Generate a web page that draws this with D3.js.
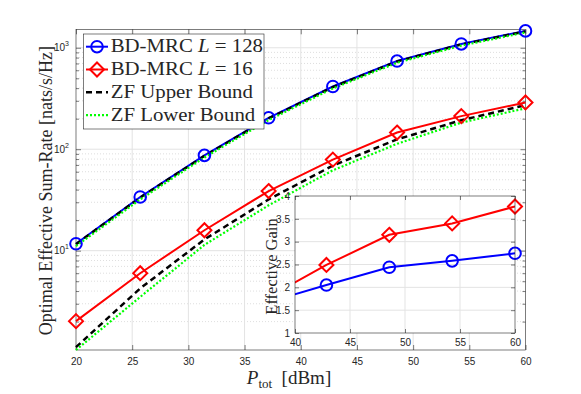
<!DOCTYPE html>
<html>
<head>
<meta charset="utf-8">
<script src="https://cdn.jsdelivr.net/npm/d3@7"></script>
<style>
body{margin:0;background:#fff;}
text{fill:#262626;}
.serif{font-family:"Liberation Serif","DejaVu Serif",serif;}
.sans{font-family:"Liberation Sans","DejaVu Sans",sans-serif;}
</style>
</head>
<body>
<div class="graph"></div>
<script>
// data
var power = [20, 25.714, 31.429, 37.143, 42.857, 48.571, 54.286, 60];
var mrc128 = [11.7, 33.8, 87, 204, 415, 740, 1090, 1465];
var mrc16 = [2.02, 6.0, 15.9, 38.7, 79, 146, 212, 289];
var zfUpper128 = [11.6, 33.4, 86, 201, 410, 732, 1078, 1450];
var zfLower128 = [11.1, 32.0, 83, 194, 397, 712, 1050, 1415];
var zfUpper16 = [1.12, 4.25, 12.9, 32, 69, 125, 193, 272];
var zfLower16 = [1.05, 3.5, 11.4, 28, 62, 113, 183, 253];

var gainPower = [37.143, 42.857, 48.571, 54.286, 60];
var gain16 = [1.73, 2.49, 3.15, 3.40, 3.77];
var gain128 = [1.65, 2.05, 2.44, 2.58, 2.745];

var xTicks = [20, 25, 30, 35, 40, 45, 50, 55, 60];
var yTicks = [10, 100, 1000];
var gainXTicks = [40, 45, 50, 55, 60];
var gainYTicks = [1, 1.5, 2, 2.5, 3, 3.5, 4];
var legendLabels = ["BD-MRC L = 128", "BD-MRC L = 16", "ZF Upper Bound", "ZF Lower Bound"];

const width = 581;
const height = 394;
var main = {left: 76, right: 525.5, top: 29.3, bottom: 350};
var inset = {left: 295, right: 515, top: 196, bottom: 333};

var axisColor = "#262626";
var gridColor = "#e3e3e3";

var blue = "#0000ff", red = "#ff0000", green = "#00ff00";

var svg = d3.select(".graph")
    .append("svg")
    .attr("width", width)
    .attr("height", height)
    .style("display", "block");

var diamond = function(s){
    return "M0," + (-s) + "L" + s + ",0L0," + s + "L" + (-s) + ",0Z";
};

// ===========================================
// main axes
// ===========================================
var scaleX = d3.scaleLinear()
    .domain([20, 60])
    .range([main.left, main.right]);

var scaleY = d3.scaleLog()
    .domain([1.05, 1520])
    .range([main.bottom, main.top]);

var minorY = [];
[1, 10, 100, 1000].forEach(function(d){
    for (var k = 2; k <= 9; k++) {
        var v = d * k;
        if (v > 1.05 && v < 1520) minorY.push(v);
    }
});

// grid
var grid = svg.append("g");
grid.selectAll(".minor")
    .data(minorY)
    .enter()
    .append("line")
    .attr("x1", main.left).attr("x2", main.right)
    .attr("y1", d => scaleY(d)).attr("y2", d => scaleY(d))
    .attr("stroke", "#d6d6d6")
    .attr("stroke-width", 0.8)
    .attr("stroke-dasharray", "1,2");
grid.selectAll(".majorY")
    .data(yTicks)
    .enter()
    .append("line")
    .attr("x1", main.left).attr("x2", main.right)
    .attr("y1", d => scaleY(d)).attr("y2", d => scaleY(d))
    .attr("stroke", gridColor);
grid.selectAll(".majorX")
    .data(xTicks.slice(1, -1))
    .enter()
    .append("line")
    .attr("x1", d => scaleX(d)).attr("x2", d => scaleX(d))
    .attr("y1", main.top).attr("y2", main.bottom)
    .attr("stroke", gridColor);

// axes
var styleAxis = function(g){
    g.select(".domain").remove();
    g.attr("font-family", null).attr("font-size", null);
    g.selectAll(".tick line").attr("stroke", axisColor).attr("stroke-width", 0.6);
    g.selectAll("text").attr("class", "sans").style("font-size", "10px").attr("fill", axisColor);
};

svg.append("g")
    .attr("transform", "translate(0," + main.bottom + ")")
    .call(d3.axisBottom(scaleX).tickValues(xTicks).tickSize(-5).tickPadding(8).tickFormat(d3.format("d")))
    .call(styleAxis);
svg.append("g")
    .attr("transform", "translate(0," + main.top + ")")
    .call(d3.axisTop(scaleX).tickValues(xTicks).tickSize(-5).tickFormat(""))
    .call(styleAxis);

var yAxisL = svg.append("g")
    .attr("transform", "translate(" + main.left + ",0)")
    .call(d3.axisLeft(scaleY).tickValues(yTicks).tickSize(-5).tickPadding(7).tickFormat(""))
    .call(styleAxis);
yAxisL.selectAll(".tick text")
    .each(function(d){
        var t = d3.select(this);
        t.append("tspan").text("10");
        t.append("tspan").attr("dy", -5).style("font-size", "7px").text(Math.round(Math.log10(d)));
    });
svg.append("g")
    .attr("transform", "translate(" + main.left + ",0)")
    .call(d3.axisLeft(scaleY).tickValues(minorY).tickSize(-3).tickFormat(""))
    .call(styleAxis);
svg.append("g")
    .attr("transform", "translate(" + main.right + ",0)")
    .call(d3.axisRight(scaleY).tickValues(yTicks).tickSize(-5).tickFormat(""))
    .call(styleAxis);
svg.append("g")
    .attr("transform", "translate(" + main.right + ",0)")
    .call(d3.axisRight(scaleY).tickValues(minorY).tickSize(-3).tickFormat(""))
    .call(styleAxis);

svg.append("rect")
    .attr("x", main.left).attr("y", main.top)
    .attr("width", main.right - main.left).attr("height", main.bottom - main.top)
    .attr("fill", "none").attr("stroke", axisColor).attr("stroke-width", 0.6);

// curves
var line = d3.line()
    .x((d, i) => scaleX(power[i]))
    .y(d => scaleY(d));

var curves = [
    {data: mrc128, color: blue, width: 2, dash: null},
    {data: mrc16, color: red, width: 2, dash: null},
    {data: zfUpper128, color: "#000", width: 2.5, dash: "6,4"},
    {data: zfUpper16, color: "#000", width: 2.5, dash: "6,4"},
    {data: zfLower128, color: green, width: 2.2, dash: "2,2"},
    {data: zfLower16, color: green, width: 2.2, dash: "2,2"}
];
curves.forEach(function(c){
    svg.append("path")
        .datum(c.data)
        .attr("d", line)
        .attr("fill", "none")
        .attr("stroke", c.color)
        .attr("stroke-width", c.width)
        .attr("stroke-dasharray", c.dash);
});

svg.selectAll(".m128")
    .data(mrc128)
    .enter()
    .append("circle")
    .attr("cx", (d, i) => scaleX(power[i]))
    .attr("cy", d => scaleY(d))
    .attr("r", 5.8)
    .attr("fill", "none")
    .attr("stroke", blue)
    .attr("stroke-width", 2);
svg.selectAll(".m16")
    .data(mrc16)
    .enter()
    .append("path")
    .attr("d", diamond(7))
    .attr("transform", (d, i) => "translate(" + scaleX(power[i]) + "," + scaleY(d) + ")")
    .attr("fill", "none")
    .attr("stroke", red)
    .attr("stroke-width", 2);

// axis labels
svg.append("text")
    .attr("class", "serif")
    .attr("transform", "translate(52," + ((main.top + main.bottom) / 2 + 1) + ") rotate(-90)")
    .attr("text-anchor", "middle")
    .style("font-size", "18px")
    .text("Optimal Effective Sum-Rate [nats/s/Hz]");

var xLabel = svg.append("text")
    .attr("class", "serif")
    .attr("x", 289)
    .attr("y", 384)
    .attr("text-anchor", "middle")
    .style("font-size", "19px");
xLabel.append("tspan").style("font-style", "italic").text("P");
xLabel.append("tspan").attr("dy", 4).style("font-size", "13px").text("tot");
xLabel.append("tspan").attr("dy", -4).text("\u2002[dBm]");

// legend
var legend = svg.append("g");
legend.append("rect")
    .attr("x", 83.3).attr("y", 34)
    .attr("width", 180.7).attr("height", 95)
    .attr("fill", "#fff")
    .attr("stroke", axisColor)
    .attr("stroke-width", 0.6);

var legendStyle = [
    {color: blue, width: 2, dash: null, marker: "circle"},
    {color: red, width: 2, dash: null, marker: "diamond"},
    {color: "#000", width: 2.5, dash: "6,4", marker: null},
    {color: green, width: 2.2, dash: "2,2", marker: null}
];
legendLabels.forEach(function(label, i){
    var yy = 46.7 + i * 22.8;
    var s = legendStyle[i];
    legend.append("line")
        .attr("x1", 86).attr("x2", 108)
        .attr("y1", yy).attr("y2", yy)
        .attr("stroke", s.color)
        .attr("stroke-width", s.width)
        .attr("stroke-dasharray", s.dash);
    if (s.marker == "circle") {
        legend.append("circle").attr("cx", 97).attr("cy", yy).attr("r", 5.8)
            .attr("fill", "none").attr("stroke", s.color).attr("stroke-width", 2);
    } else if (s.marker == "diamond") {
        legend.append("path").attr("d", diamond(7))
            .attr("transform", "translate(97," + yy + ")")
            .attr("fill", "none").attr("stroke", s.color).attr("stroke-width", 2);
    }
    // Computer Modern sets wider than Times, so stretch a little
    var t = legend.append("text")
        .attr("class", "serif")
        .attr("transform", "translate(110.7," + (yy + 5.6) + ") scale(1.17,1)")
        .style("font-size", "17.8px");
    var parts = label.split(" L ");
    if (parts.length == 2) {
        t.append("tspan").text(parts[0] + " ");
        t.append("tspan").style("font-style", "italic").text("L");
        t.append("tspan").text(" " + parts[1]);
    } else {
        t.text(label);
    }
});

// ===========================================
// inset
// ===========================================
var gX = d3.scaleLinear()
    .domain([40, 60])
    .range([inset.left, inset.right]);
var gY = d3.scaleLinear()
    .domain([1, 4])
    .range([inset.bottom, inset.top]);

svg.append("rect")
    .attr("x", inset.left).attr("y", inset.top)
    .attr("width", inset.right - inset.left).attr("height", inset.bottom - inset.top)
    .attr("fill", "#fff");

svg.selectAll(".gGridY")
    .data(gainYTicks.slice(1, -1))
    .enter()
    .append("line")
    .attr("x1", inset.left).attr("x2", inset.right)
    .attr("y1", d => gY(d)).attr("y2", d => gY(d))
    .attr("stroke", gridColor);
svg.selectAll(".gGridX")
    .data(gainXTicks.slice(1, -1))
    .enter()
    .append("line")
    .attr("x1", d => gX(d)).attr("x2", d => gX(d))
    .attr("y1", inset.top).attr("y2", inset.bottom)
    .attr("stroke", gridColor);

svg.append("g")
    .attr("transform", "translate(0," + inset.bottom + ")")
    .call(d3.axisBottom(gX).tickValues(gainXTicks).tickSize(-4).tickPadding(6).tickFormat(d3.format("d")))
    .call(styleAxis);
svg.append("g")
    .attr("transform", "translate(0," + inset.top + ")")
    .call(d3.axisTop(gX).tickValues(gainXTicks).tickSize(-4).tickFormat(""))
    .call(styleAxis);
svg.append("g")
    .attr("transform", "translate(" + inset.left + ",0)")
    .call(d3.axisLeft(gY).tickValues(gainYTicks).tickSize(-4).tickPadding(5).tickFormat(d => d3.format("")(d)))
    .call(styleAxis);
svg.append("g")
    .attr("transform", "translate(" + inset.right + ",0)")
    .call(d3.axisRight(gY).tickValues(gainYTicks).tickSize(-4).tickFormat(""))
    .call(styleAxis);

svg.append("defs").append("clipPath")
    .attr("id", "insetClip")
    .append("rect")
    .attr("x", inset.left).attr("y", inset.top)
    .attr("width", inset.right - inset.left).attr("height", inset.bottom - inset.top);

var gLine = d3.line()
    .x((d, i) => gX(gainPower[i]))
    .y(d => gY(d));

[[gain128, blue], [gain16, red]].forEach(function(s){
    svg.append("path")
        .datum(s[0])
        .attr("d", gLine)
        .attr("clip-path", "url(#insetClip)")
        .attr("fill", "none")
        .attr("stroke", s[1])
        .attr("stroke-width", 2);
});

var inDomain = (d, i) => gainPower[i] >= 40;
svg.selectAll(".g128")
    .data(gain128.map((d, i) => [gainPower[i], d]).filter((d, i) => inDomain(d, i)))
    .enter()
    .append("circle")
    .attr("cx", d => gX(d[0]))
    .attr("cy", d => gY(d[1]))
    .attr("r", 5.8)
    .attr("fill", "none")
    .attr("stroke", blue)
    .attr("stroke-width", 2);
svg.selectAll(".g16")
    .data(gain16.map((d, i) => [gainPower[i], d]).filter((d, i) => inDomain(d, i)))
    .enter()
    .append("path")
    .attr("d", diamond(7))
    .attr("transform", d => "translate(" + gX(d[0]) + "," + gY(d[1]) + ")")
    .attr("fill", "none")
    .attr("stroke", red)
    .attr("stroke-width", 2);

svg.append("rect")
    .attr("x", inset.left).attr("y", inset.top)
    .attr("width", inset.right - inset.left).attr("height", inset.bottom - inset.top)
    .attr("fill", "none").attr("stroke", axisColor).attr("stroke-width", 0.6);

svg.append("text")
    .attr("class", "serif")
    .attr("transform", "translate(277," + ((inset.top + inset.bottom) / 2 + 2) + ") rotate(-90)")
    .attr("text-anchor", "middle")
    .style("font-size", "16.5px")
    .text("Effective Gain");
</script>
</body>
</html>
